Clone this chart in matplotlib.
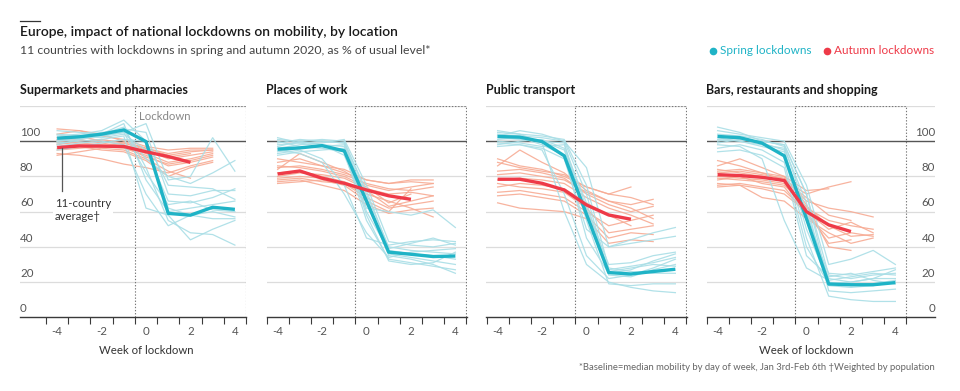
import numpy as np
import matplotlib
matplotlib.use("Agg")
import matplotlib.pyplot as plt
from matplotlib.lines import Line2D
from matplotlib.transforms import blended_transform_factory

nan = np.nan
plt.rcParams['font.family'] = ['Lato', 'DejaVu Sans']

# ---------------- data ----------------
weeks_spring = [-4, -3, -2, -1, 0, 1, 2, 3, 4]
weeks_autumn_thin = [-4, -3, -2, -1, 0, 1, 2, 3]
weeks_autumn_avg = [-4, -3, -2, -1, 0, 1, 2]

panel_titles = ["Supermarkets and pharmacies", "Places of work",
                "Public transport", "Bars, restaurants and shopping"]

# 11-country averages
super_spring_avg = [101.7, 102.5, 104, 106.4, 99.8, 59, 58, 62.5, 61.3]
super_autumn_avg = [96.4, 97.3, 97.2, 97, 94, 91.3, 88]
work_spring_avg = [95.5, 96.2, 97.5, 94.5, 66, 37, 35.8, 34.5, 34.8]
work_autumn_avg = [81.4, 83.1, 79, 76.1, 72.3, 69, 67]
transport_spring_avg = [102.7, 102.3, 99.8, 91.7, 58.5, 25.4, 24.6, 26, 27.3]
transport_autumn_avg = [78.4, 78.4, 76.1, 72.3, 63.8, 58.1, 55.7]
bars_spring_avg = [102.7, 102, 98.9, 91.7, 56, 18.9, 18.5, 18.5, 19.7]
bars_autumn_avg = [81, 80.5, 79.5, 77.7, 60, 52.5, 48.7]

# individual countries, spring
super_spring = [
    [103, 104, 106, 112, 100, 62, 58, 60, 57],
    [100, 102, 103, 105, 110, 78, 80, 102, 83],
    [98, 101, 104, 108, 85, 55, 48, 47, 41],
    [104, 103, 102, 104, 95, 66, 65, 68, 73],
    [106, 105, 104, 110, 78, 60, 62, 64, 66],
    [97, 99, 100, 98, 70, 52, 58, 56, 56],
    [102, 103, 105, 106, 90, 80, 76, 82, 89],
    [99, 100, 101, 103, 62, 58, 44, 50, 55],
    [101, 102, 104, 107, 105, 70, 69, 72, 72],
    [95, 97, 99, 101, 100, 75, 74, 73, 67],
    [100, 101, 103, 105, 82, 64, 66, 61, 60],
]
work_spring = [
    [101, 100, 101, 100, 70, 40, 38, 37, 36],
    [98, 99, 100, 99, 65, 36, 34, 32, 30],
    [96, 98, 99, 101, 75, 43, 41, 40, 42],
    [93, 95, 90, 75, 45, 41, 43, 44, 43],
    [100, 97, 96, 94, 55, 33, 31, 29, 27],
    [94, 96, 98, 97, 60, 38, 36, 35, 33],
    [102, 99, 97, 98, 68, 35, 33, 30, 25],
    [97, 100, 98, 92, 62, 60, 58, 61, 51],
    [95, 93, 88, 70, 48, 34, 37, 38, 39],
    [99, 101, 100, 99, 72, 39, 42, 45, 41],
    [92, 94, 95, 96, 58, 32, 30, 31, 37],
]
transport_spring = [
    [105, 104, 103, 101, 75, 28, 26, 25, 25],
    [103, 106, 104, 100, 70, 24, 23, 27, 30],
    [101, 102, 100, 95, 60, 27, 29, 31, 34],
    [99, 98, 96, 90, 50, 40, 44, 48, 51],
    [104, 103, 102, 100, 85, 40, 42, 44, 46],
    [97, 98, 95, 70, 35, 22, 24, 28, 33],
    [100, 99, 97, 98, 62, 30, 31, 35, 37],
    [106, 104, 99, 60, 30, 20, 17, 15, 14],
    [102, 101, 100, 99, 55, 19, 18, 19, 19],
    [98, 100, 101, 96, 65, 26, 28, 30, 29],
    [103, 102, 98, 92, 45, 25, 27, 32, 36],
]
bars_spring = [
    [108, 105, 100, 98, 70, 24, 22, 24, 25],
    [104, 103, 101, 97, 60, 22, 20, 22, 22],
    [100, 102, 99, 95, 50, 20, 18, 19, 21],
    [106, 104, 102, 100, 75, 30, 33, 38, 30],
    [96, 98, 95, 88, 40, 19, 20, 22, 27],
    [102, 100, 98, 96, 65, 15, 14, 15, 16],
    [98, 97, 90, 55, 28, 21, 23, 25, 24],
    [103, 101, 99, 92, 45, 12, 10, 9, 9],
    [94, 95, 92, 85, 35, 23, 25, 21, 19],
    [101, 100, 97, 94, 55, 25, 24, 26, 28],
    [99, 101, 100, 98, 70, 18, 17, 18, 20],
]

# individual countries, autumn
super_autumn = [
    [107, 106, 104, 100, 96, 92, 94, 95],
    [104, 106, 103, 101, 97, 95, 96, 96],
    [100, 99, 98, 97, 93, 88, 90, 93],
    [95, 96, 97, 96, 92, 86, 88, 91],
    [92, 94, 96, 95, 90, 83, 79, nan],
    [98, 100, 101, 99, 95, 90, 92, 94],
    [93, 92, 90, 87, 85, 82, 86, 89],
    [102, 103, 100, 98, 94, 91, 93, nan],
    [96, 97, 95, 94, 89, 80, 85, 88],
    [99, 98, 97, 99, 96, 93, 95, 95],
    [101, 101, 99, 97, 91, 87, 89, 92],
]
work_autumn = [
    [88, 90, 86, 82, 78, 76, 78, 78],
    [84, 93, 88, 83, 75, 72, 74, 76],
    [80, 82, 81, 79, 73, 70, 71, 69],
    [78, 79, 77, 76, 70, 66, 62, 57],
    [86, 85, 83, 80, 74, 65, 70, nan],
    [82, 83, 80, 77, 72, 63, 66, 69],
    [76, 77, 78, 75, 66, 60, 73, nan],
    [90, 88, 86, 84, 78, 76, 77, 76],
    [79, 80, 79, 76, 68, 62, 64, 66],
    [85, 86, 84, 81, 76, 73, 72, 74],
    [77, 78, 75, 72, 64, 59, 61, 62],
]
transport_autumn = [
    [90, 86, 84, 80, 74, 70, 74, nan],
    [86, 95, 88, 82, 72, 66, 64, 67],
    [83, 84, 82, 79, 70, 64, 60, 63],
    [78, 79, 78, 76, 68, 62, 58, 53],
    [74, 76, 75, 73, 65, 58, 52, nan],
    [71, 72, 70, 68, 60, 52, 55, 58],
    [65, 62, 61, 60, 56, 42, 44, 43],
    [88, 85, 83, 81, 74, 70, 68, 64],
    [76, 74, 73, 71, 62, 48, 50, 52],
    [81, 82, 80, 78, 71, 66, 62, 56],
    [69, 70, 68, 66, 58, 45, 48, 47],
]
bars_autumn = [
    [89, 86, 82, 78, 70, 74, 77, nan],
    [86, 90, 85, 80, 72, 73, nan, nan],
    [82, 83, 81, 79, 66, 62, 60, 57],
    [80, 79, 78, 76, 62, 55, 52, 50],
    [78, 80, 76, 74, 58, 45, 48, 46],
    [75, 76, 74, 72, 60, 50, 54, 48],
    [83, 84, 82, 80, 64, 40, 38, nan],
    [76, 75, 68, 66, 56, 48, 42, 45],
    [84, 82, 80, 77, 68, 58, 55, nan],
    [79, 78, 77, 75, 63, 52, 46, 47],
    [74, 75, 73, 70, 60, 42, 44, nan],
]

y_grid = [20, 40, 60, 80, 120]
y_labels = [0, 20, 40, 60, 80, 100]
x_labels = [-4, -2, 0, 2, 4]

# ---------------- style ----------------
SPRING = "#1fb3c6"
AUTUMN = "#ee3a48"
SPRING_THIN = "#a9dee6"
AUTUMN_THIN = "#f7ab94"
GRID = "#dcdcdc"
DARK = "#3a3a3a"
TXT = "#555555"

W, H = 960, 391
fig = plt.figure(figsize=(W / 100, H / 100), dpi=100)

TOP, BOT = 106, 317.3
PXW = 22.22  # pixels per week


def add_axes(left, right):
    return fig.add_axes([left / W, 1 - BOT / H, (right - left) / W, (BOT - TOP) / H])


panels = [
    (20, 246, super_spring, super_autumn, super_spring_avg, super_autumn_avg),
    (266.5, 466.5, work_spring, work_autumn, work_spring_avg, work_autumn_avg),
    (486.5, 686.5, transport_spring, transport_autumn, transport_spring_avg, transport_autumn_avg),
    (706.5, 935, bars_spring, bars_autumn, bars_spring_avg, bars_autumn_avg),
]

axes = []
for i, (l, r, sp, au, spa, aua) in enumerate(panels):
    ax = add_axes(l, r)
    axes.append(ax)
    if i == 0:
        x0 = 4.5 - (r - l) / PXW
        x1 = 4.5
    else:
        x0 = -4.5
        x1 = -4.5 + (r - l) / PXW
    ax.set_xlim(x0, x1)
    ax.set_ylim(0, 120)
    for s in ax.spines.values():
        s.set_visible(False)
    ax.patch.set_alpha(0)

    for g in y_grid:
        ax.axhline(g, color=GRID, lw=0.9, zorder=1)
    ax.axhline(100, color="#555555", lw=1.0, zorder=1.5)
    ax.axhline(0, color=DARK, lw=1.0, zorder=5, clip_on=False)

    # lockdown box
    ax.plot([-0.5, -0.5], [0, 120], ls=(0, (1.2, 1.6)), color="#777777", lw=0.8, zorder=2)
    ax.plot([-0.5, 4.5], [120, 120], ls=(0, (1.2, 1.6)), color="#777777", lw=0.8, zorder=2)
    ax.plot([4.5, 4.5], [0, 120], ls=(0, (1.2, 1.6)), color="#777777", lw=0.8, zorder=2)

    for row in au:
        ax.plot(weeks_autumn_thin, row, color=AUTUMN_THIN, lw=0.9, zorder=3, alpha=0.9)
    for row in sp:
        ax.plot(weeks_spring, row, color=SPRING_THIN, lw=0.9, zorder=3.2, alpha=0.9)
    ax.plot(weeks_spring, spa, color=SPRING, lw=2.4, zorder=4, solid_capstyle="butt",
            solid_joinstyle="round")
    ax.plot(weeks_autumn_avg, aua, color=AUTUMN, lw=2.4, zorder=4.2, solid_capstyle="butt",
            solid_joinstyle="round")

    ax.set_xticks(x_labels)
    ax.set_xticklabels([str(v) for v in x_labels])
    ax.set_xticks(np.arange(-4.5, 5, 1), minor=True)
    ax.tick_params(axis="x", which="major", length=0, pad=6, labelsize=8.3, labelcolor=TXT)
    ax.tick_params(axis="x", which="minor", length=5, width=0.8, color=DARK, direction="out")
    ax.set_yticks([])

    tr = blended_transform_factory(ax.transAxes, ax.transData)
    if i == 0:
        for v in y_labels:
            ax.text(0.0, v + 1.8, str(v), transform=tr, ha="left", va="bottom",
                    fontsize=8.3, color=TXT)
    if i == 3:
        for v in y_labels:
            ax.text(1.0, v + 1.8, str(v), transform=tr, ha="right", va="bottom",
                    fontsize=8.3, color=TXT)
    if i in (0, 3):
        ax.text(0, -15.5, "Week of lockdown", ha="center", va="top", fontsize=8.2,
                color="#333333")

# panel 1 annotations
ax0 = axes[0]
ax0.text(-0.3, 113.8, "Lockdown", ha="left", va="center", fontsize=8.2, color="#888888")
ax0.plot([-3.8, -3.8], [96.2, 72], color="#555555", lw=0.9, zorder=4.5)
ax0.text(-4.1, 61, "11-country\naverage†", ha="left", va="center", fontsize=8.2,
         color="#333333", linespacing=1.2, zorder=4.6,
         bbox=dict(boxstyle="square,pad=0.15", fc="white", ec="none"))

# titles
for (l, r, *_), t in zip(panels, panel_titles):
    fig.text(l / W, 1 - 89.5 / H, t, ha="left", va="center", fontsize=9,
             fontweight="bold", color="#1a1a1a")

fig.add_artist(Line2D([20 / W, 40 / W], [1 - 21 / H, 1 - 21 / H], color="#333333", lw=0.9))
fig.text(20 / W, 1 - 32.5 / H, "Europe, impact of national lockdowns on mobility, by location",
         ha="left", va="center", fontsize=10, fontweight="semibold", color="#1a1a1a")
fig.text(20 / W, 1 - 50 / H,
         "11 countries with lockdowns in spring and autumn 2020, as % of usual level*",
         ha="left", va="center", fontsize=8.8, color="#444444")

# legend
fig.add_artist(Line2D([713 / W], [1 - 51 / H], marker="o", ms=4.5, color=SPRING, lw=0))
fig.text(720 / W, 1 - 50 / H, "Spring lockdowns", ha="left", va="center", fontsize=8.5,
         color=SPRING)
fig.add_artist(Line2D([827 / W], [1 - 51 / H], marker="o", ms=4.5, color=AUTUMN, lw=0))
fig.text(834 / W, 1 - 50 / H, "Autumn lockdowns", ha="left", va="center", fontsize=8.5,
         color=AUTUMN)

fig.text(935 / W, 1 - 367 / H,
         "*Baseline=median mobility by day of week, Jan 3rd-Feb 6th †Weighted by population",
         ha="right", va="center", fontsize=6.85, color="#666666")

fig.savefig("out.png", dpi=100)
